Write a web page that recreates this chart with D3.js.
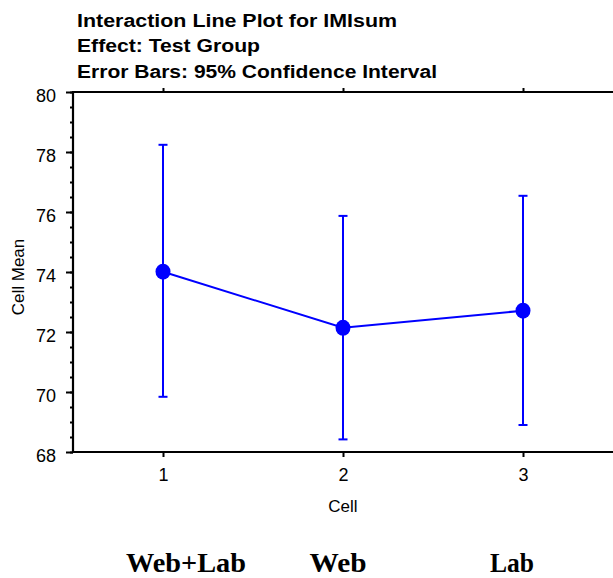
<!DOCTYPE html>
<html>
<head>
<meta charset="utf-8">
<script src="https://cdn.jsdelivr.net/npm/d3@7"></script>
<style>
  html, body { margin: 0; padding: 0; background: #fff; }
  svg { display: block; }
</style>
</head>
<body>
<svg id="chart" width="613" height="578"></svg>
<script>
const titleLines = ["Interaction Line Plot for IMIsum", "Effect: Test Group", "Error Bars: 95% Confidence Interval"];
const cells = [1, 2, 3];
const groupLabels = ["Web+Lab", "Web", "Lab"];
const means = [74.01, 72.14, 72.71];
const upperCI = [78.24, 75.87, 76.54];
const lowerCI = [69.84, 68.42, 68.90];
const yMajorTicks = [68, 70, 72, 74, 76, 78, 80];
const yMinorTicks = d3.range(68, 80.01, 0.5);
const xLabel = "Cell";
const yLabel = "Cell Mean";

(function () {
const svg = d3.select("#chart");
const mLeft = 73, mRight = 613, mTop = 92, mBottom = 452;
const x = d3.scaleLinear().domain([0.5, 3.5]).range([mLeft, mRight]);
const y = d3.scaleLinear().domain([68, 80]).range([mBottom, mTop]);
const blue = "#0000ff";
const sans = "Arial, 'Liberation Sans', sans-serif";

// Title
const titleLens = [320, 183, 360];
svg.selectAll("text.title").data(titleLines).join("text")
  .attr("class", "title")
  .attr("x", 77)
  .attr("y", (d, i) => 26.5 + i * 25.7)
  .attr("textLength", (d, i) => titleLens[i])
  .attr("lengthAdjust", "spacingAndGlyphs")
  .style("font-family", sans)
  .style("font-weight", "bold")
  .style("font-size", "17.5px")
  .text(d => d);

// Minor y ticks
svg.append("g").attr("transform", `translate(${mLeft},0)`)
  .call(d3.axisLeft(y).tickValues(yMinorTicks).tickSize(3).tickFormat(""))
  .call(g => g.select(".domain").remove())
  .call(g => g.selectAll("line").attr("stroke", "#000").attr("stroke-width", 2));

// Major y ticks
svg.append("g").attr("transform", `translate(${mLeft},0)`)
  .call(d3.axisLeft(y).tickValues(yMajorTicks).tickSize(7).tickPadding(10).tickFormat(d3.format("d")))
  .call(g => g.select(".domain").remove())
  .call(g => g.selectAll("line").attr("stroke", "#000").attr("stroke-width", 2))
  .call(g => g.selectAll("text")
    .attr("dy", "0.5em")
    .style("font-family", sans)
    .style("font-size", "18px")
    .attr("fill", "#000"));

// Bottom x axis
svg.append("g").attr("transform", `translate(0,${mBottom})`)
  .call(d3.axisBottom(x).tickValues(cells).tickSize(5).tickPadding(16).tickFormat(d3.format("d")))
  .call(g => g.select(".domain").remove())
  .call(g => g.selectAll("line").attr("stroke", "#000").attr("stroke-width", 2))
  .call(g => g.selectAll("text")
    .attr("dy", "0.45em")
    .style("font-family", sans)
    .style("font-size", "18px")
    .attr("fill", "#000"));

// Top x ticks
svg.append("g").attr("transform", `translate(0,${mTop})`)
  .call(d3.axisTop(x).tickValues(cells).tickSize(4).tickFormat(""))
  .call(g => g.select(".domain").remove())
  .call(g => g.selectAll("line").attr("stroke", "#000").attr("stroke-width", 2));

// Frame lines
const frame = svg.append("g").attr("stroke", "#000").attr("stroke-width", 2.2).attr("fill", "none");
frame.append("line").attr("x1", mLeft).attr("x2", mLeft).attr("y1", y(80) - 1).attr("y2", y(68) + 1);
frame.append("line").attr("x1", mLeft).attr("x2", mRight).attr("y1", y(80)).attr("y2", y(80));
frame.append("line").attr("x1", mLeft).attr("x2", mRight).attr("y1", y(68)).attr("y2", y(68));

// Axis titles
svg.append("text")
  .attr("x", x(2)).attr("y", 512)
  .attr("text-anchor", "middle")
  .style("font-family", sans)
  .style("font-size", "17px")
  .text(xLabel);

svg.append("text")
  .attr("transform", `translate(24,277) rotate(-90)`)
  .attr("text-anchor", "middle")
  .style("font-family", sans)
  .style("font-size", "17px")
  .text(yLabel);

// Data
const data = cells.map((c, i) => ({ c, m: means[i], lo: lowerCI[i], hi: upperCI[i] }));
const capHalf = 4.5;
const eb = svg.append("g").attr("stroke", blue).attr("stroke-width", 2);
eb.selectAll("line.v").data(data).join("line").attr("class", "v")
  .attr("x1", d => x(d.c)).attr("x2", d => x(d.c))
  .attr("y1", d => y(d.hi)).attr("y2", d => y(d.lo));
eb.selectAll("line.hi").data(data).join("line").attr("class", "hi")
  .attr("x1", d => x(d.c) - capHalf).attr("x2", d => x(d.c) + capHalf)
  .attr("y1", d => y(d.hi)).attr("y2", d => y(d.hi));
eb.selectAll("line.lo").data(data).join("line").attr("class", "lo")
  .attr("x1", d => x(d.c) - capHalf).attr("x2", d => x(d.c) + capHalf)
  .attr("y1", d => y(d.lo)).attr("y2", d => y(d.lo));

svg.append("path").datum(data)
  .attr("fill", "none").attr("stroke", blue).attr("stroke-width", 2)
  .attr("d", d3.line().x(d => x(d.c)).y(d => y(d.m)));

svg.selectAll("ellipse.pt").data(data).join("ellipse").attr("class", "pt")
  .attr("cx", d => x(d.c)).attr("cy", d => y(d.m))
  .attr("rx", 7.5).attr("ry", 8)
  .attr("fill", blue);

// Group labels below
const groupX = [186, 338, 512];
const groupLen = [120, 57, 44];
svg.selectAll("text.grp").data(groupLabels).join("text").attr("class", "grp")
  .attr("x", (d, i) => groupX[i] - groupLen[i] / 2).attr("y", 572)
  .attr("textLength", (d, i) => groupLen[i])
  .attr("lengthAdjust", "spacingAndGlyphs")
  .style("font-family", "'Liberation Serif', 'Times New Roman', serif")
  .style("font-weight", "bold")
  .style("font-size", "28px")
  .text(d => d);
})();
</script>
</body>
</html>
